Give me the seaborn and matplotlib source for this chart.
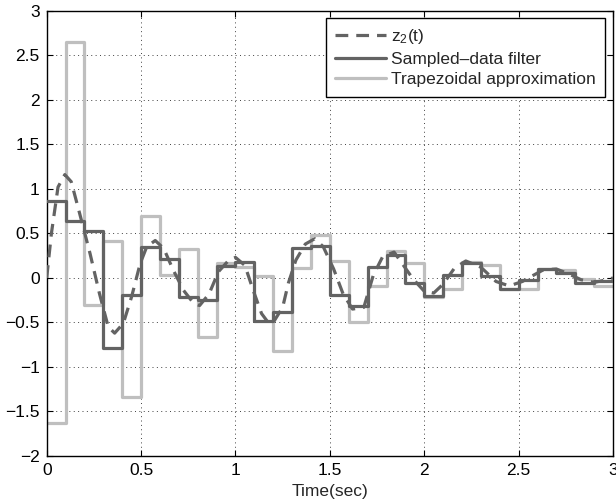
import numpy as np
import seaborn as sns
import matplotlib.pyplot as plt

# sample instants (0.1 s hold), last value repeated so the final step reaches t = 3
step_t = np.round(np.arange(0, 3.01, 0.1), 2)

sampled_vals = [0.865, 0.64, 0.53, -0.79, -0.19, 0.35, 0.21, -0.22, -0.25, 0.13,
                0.18, -0.485, -0.38, 0.34, 0.36, -0.19, -0.32, 0.12, 0.26, -0.06,
                -0.20, 0.03, 0.17, 0.02, -0.12, -0.02, 0.10, 0.06, -0.06, -0.04]
trap_vals = [-1.63, 2.65, -0.30, 0.42, -1.34, 0.69, 0.03, 0.33, -0.66, 0.17,
             0.12, 0.02, -0.82, 0.11, 0.48, 0.19, -0.49, -0.09, 0.30, 0.17,
             -0.22, -0.12, 0.18, 0.14, -0.12, -0.12, 0.10, 0.09, -0.01, -0.09]

# continuous response z2(t)
z2_t = [0.0, 0.025, 0.06, 0.096, 0.13, 0.175, 0.23, 0.28, 0.326, 0.36, 0.406, 0.45,
        0.495, 0.53, 0.575, 0.62, 0.67, 0.725, 0.78, 0.81, 0.86, 0.91, 0.965, 1.0,
        1.05, 1.094, 1.138, 1.18, 1.2, 1.25, 1.28, 1.32, 1.37, 1.42, 1.465, 1.52,
        1.57, 1.62, 1.68, 1.73, 1.78, 1.84, 1.89, 1.94, 2.0, 2.05, 2.1, 2.16, 2.22,
        2.3, 2.35, 2.38, 2.45, 2.52, 2.57, 2.63, 2.7, 2.76, 2.83, 2.9, 2.97, 3.0]
z2_vals = [0.0, 0.5, 1.02, 1.16, 1.08, 0.72, 0.27, -0.18, -0.55, -0.62, -0.51, -0.21,
           0.16, 0.35, 0.42, 0.33, 0.09, -0.14, -0.29, -0.31, -0.18, 0.07, 0.2, 0.23,
           0.14, -0.14, -0.40, -0.52, -0.50, -0.33, -0.06, 0.20, 0.38, 0.44, 0.35, 0.1,
           -0.18, -0.35, -0.33, 0.03, 0.24, 0.29, 0.14, -0.01, -0.15, -0.17, -0.07, 0.11,
           0.19, 0.12, 0.02, -0.04, -0.09, -0.04, 0.02, 0.09, 0.10, 0.05, -0.02, -0.05,
           -0.02, 0.0]

sns.set_theme(style="ticks")
plt.rcParams['font.family'] = ['Liberation Sans', 'DejaVu Sans']
plt.rcParams['mathtext.default'] = 'regular'

fig = plt.figure(figsize=(6.16, 5.04), dpi=100)
ax = fig.add_axes([0.0758, 0.0952, 0.9194, 0.8835])

dark = "#636363"
light = "#bfbfbf"

sns.lineplot(x=step_t, y=trap_vals + trap_vals[-1:], ax=ax, color=light, lw=2.3,
             drawstyle="steps-post", label="Trapezoidal approximation", zorder=2)
sns.lineplot(x=step_t, y=sampled_vals + sampled_vals[-1:], ax=ax, color=dark, lw=2.3,
             drawstyle="steps-post", label="Sampled\u2013data filter", zorder=3)
sns.lineplot(x=z2_t, y=z2_vals, ax=ax, color=dark, lw=2.3, linestyle=(0, (4, 2.5)),
             label="z$_2$(t)", zorder=4)

ax.set_xlim(0, 3)
ax.set_ylim(-2, 3)
ax.set_xticks([0, 0.5, 1, 1.5, 2, 2.5, 3])
ax.set_xticklabels(["0", "0.5", "1", "1.5", "2", "2.5", "3"])
ax.set_yticks(np.arange(-2, 3.01, 0.5))
ax.set_yticklabels(["\u22122", "\u22121.5", "\u22121", "\u22120.5", "0", "0.5", "1",
                    "1.5", "2", "2.5", "3"])
ax.set_xlabel("Time(sec)", fontsize=12.5, labelpad=4)
ax.set_ylabel("")

ax.grid(True, color="0.25", linestyle=(0, (1, 3.5)), lw=0.7)
ax.tick_params(direction="in", top=True, right=True, length=4, width=0.8,
               labelsize=12.5, colors="black", pad=5)
for s in ax.spines.values():
    s.set_color("black")
    s.set_linewidth(1.0)

handles, labels = ax.get_legend_handles_labels()
order = [2, 1, 0]
leg = ax.legend([handles[i] for i in order], [labels[i] for i in order],
                loc="upper right", bbox_to_anchor=(0.986, 0.984), borderaxespad=0,
                fontsize=12.5, frameon=True, fancybox=False, framealpha=1,
                edgecolor="black", handlelength=2.9, handletextpad=0.3,
                borderpad=0.55, labelspacing=0.3)
leg.get_frame().set_linewidth(1.0)

fig.savefig("out.png", dpi=100)
